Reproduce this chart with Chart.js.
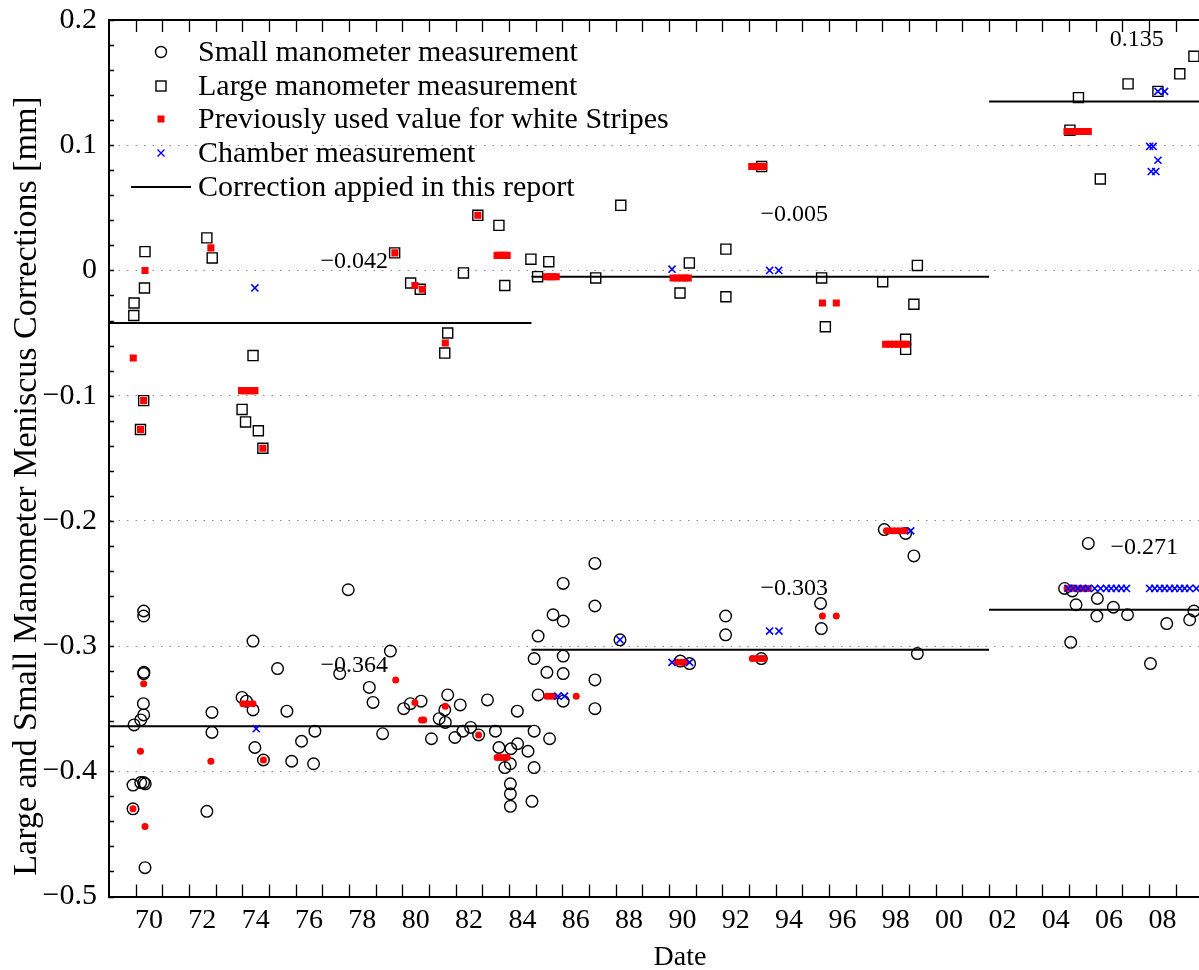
<!DOCTYPE html>
<html><head><meta charset="utf-8">
<script src="https://cdn.jsdelivr.net/npm/chart.js@4.4.1/dist/chart.umd.min.js"></script>
<style>
html,body{margin:0;padding:0;background:#fff;overflow:hidden;width:1199px;height:970px}
#wrap{position:absolute;left:0;top:0;width:1199px;height:970px}
</style>
</head><body><div id="wrap"><canvas id="c" width="1199" height="970"></canvas></div>
<script>
// ---------- tick labels ----------
const xLabelPos = [1970.5,1972.5,1974.5,1976.5,1978.5,1980.5,1982.5,1984.5,1986.5,1988.5,1990.5,1992.5,1994.5,1996.5,1998.5,2000.5,2002.5,2004.5,2006.5,2008.5];
const xLabels = ["70","72","74","76","78","80","82","84","86","88","90","92","94","96","98","00","02","04","06","08"];
const yTickVals = [-0.5,-0.4,-0.3,-0.2,-0.1,0,0.1,0.2];
const yTickLabels = ["\u22120.5","\u22120.4","\u22120.3","\u22120.2","\u22120.1","0","0.1","0.2"];

// ---------- small manometer (circles) ----------
const smallX = [1970.30,1970.30,1970.31,1970.30,1970.29,1970.30,1970.19,1969.94,1969.90,1970.19,1970.30,1970.36,1969.90,1970.35,
  1974.40,1972.86,1972.86,1972.67,1973.99,1974.15,1974.40,1974.47,1974.79,1975.32,1975.67,1975.85,1976.22,
  1976.72,1976.67,1977.97,1977.65,1979.55,1978.76,1978.90,1979.26,1980.05,1980.30,1980.70,1981.09,1981.38,1981.61,1981.59,1981.70,
  1982.17,1981.97,1982.27,1982.56,1982.86,1983.19,1983.49,1983.62,1984.07,1984.31,1984.32,1984.71,1984.94,1984.94,1983.84,1984.05,
  1984.05,1984.05,1984.05,1984.86,1984.94,1985.09,1985.42,1985.52,1985.65,
  1985.09,1986.03,1986.03,1986.03,1986.03,1986.03,1987.22,1987.22,1987.22,1987.22,1988.16,1990.42,1990.77,1992.12,1992.12,1993.46,
  1998.07,1998.87,1999.18,1995.68,1995.71,1999.31,
  2004.83,2005.12,2005.26,2005.72,2006.06,2006.04,2006.66,2007.19,2005.06,2008.05,2008.66,2009.52,2009.68];
const smallY = [-0.272,-0.276,-0.321,-0.322,-0.346,-0.355,-0.359,-0.363,-0.411,-0.409,-0.409,-0.410,-0.430,-0.477,
  -0.296,-0.353,-0.369,-0.432,-0.341,-0.344,-0.351,-0.381,-0.391,-0.318,-0.352,-0.392,-0.376,
  -0.368,-0.394,-0.255,-0.322,-0.304,-0.333,-0.345,-0.370,-0.350,-0.346,-0.344,-0.374,-0.358,-0.361,-0.351,-0.339,
  -0.347,-0.373,-0.368,-0.365,-0.371,-0.343,-0.368,-0.381,-0.382,-0.352,-0.378,-0.384,-0.368,-0.397,-0.397,-0.394,
  -0.410,-0.418,-0.428,-0.424,-0.310,-0.292,-0.321,-0.374,-0.275,
  -0.339,-0.250,-0.280,-0.308,-0.322,-0.344,-0.234,-0.268,-0.327,-0.350,-0.295,-0.312,-0.314,-0.276,-0.291,-0.310,
  -0.207,-0.210,-0.228,-0.266,-0.286,-0.306,
  -0.254,-0.256,-0.267,-0.218,-0.262,-0.276,-0.269,-0.275,-0.297,-0.314,-0.282,-0.279,-0.272];

// ---------- large manometer (squares) ----------
const largeX = [1970.35,1972.67,1972.87,1970.33,1969.94,1969.93,1974.40,1970.30,1970.18,1973.99,1974.12,1974.60,1974.77,
  1979.71,1982.83,1983.62,1984.82,1985.49,1982.29,1980.31,1980.67,1983.84,1985.07,1981.70,1981.59,
  1988.19,1987.25,1990.76,1990.41,1992.13,1992.13,1993.47,1995.72,1998.01,1999.31,1999.18,1995.86,1998.87,1998.87,
  2005.35,2007.21,2008.33,2009.15,2009.68,2005.03,2006.17];
const largeY = [0.015,0.026,0.010,-0.014,-0.026,-0.036,-0.068,-0.104,-0.127,-0.111,-0.121,-0.128,-0.142,
  0.014,0.044,0.036,0.009,0.007,-0.002,-0.010,-0.015,-0.012,-0.005,-0.050,-0.066,
  0.052,-0.006,0.006,-0.018,0.017,-0.021,0.083,-0.006,-0.009,0.004,-0.027,-0.045,-0.055,-0.063,
  0.138,0.149,0.143,0.157,0.171,0.112,0.073];

// ---------- previously used values (red) ----------
const prevLargeX = [1972.82,1970.35,1969.91,1970.30,1970.18,1973.97,1974.10,1974.23,1974.36,1974.47,1974.77,
  1979.72,1982.83,1983.55,1983.68,1983.81,1983.93,1980.47,1980.75,1981.61,1985.40,1985.52,1985.64,1985.77,
  1990.15,1990.30,1990.45,1990.60,1990.72,1993.10,1993.25,1993.40,1993.55,1995.75,1996.27,
  1998.12,1998.28,1998.44,1998.60,1998.76,1998.90,2004.92,2005.08,2005.24,2005.40,2005.56,2005.72];
const prevLargeY = [0.018,0.000,-0.070,-0.104,-0.127,-0.096,-0.096,-0.096,-0.096,-0.096,-0.142,
  0.014,0.044,0.012,0.012,0.012,0.012,-0.012,-0.015,-0.058,-0.005,-0.005,-0.005,-0.005,
  -0.006,-0.006,-0.006,-0.006,-0.006,0.083,0.083,0.083,0.083,-0.026,-0.026,
  -0.059,-0.059,-0.059,-0.059,-0.059,-0.059,0.111,0.111,0.111,0.111,0.111,0.111];
const prevSmallX = [1970.30,1970.18,1969.90,1970.35,1972.82,1974.02,1974.21,1974.40,1974.79,1979.75,1980.47,1980.72,1980.80,
  1981.61,1982.86,1983.55,1983.68,1983.81,1983.93,1985.42,1985.55,1985.68,1986.52,1990.30,1990.45,1990.60,
  1993.12,1993.27,1993.42,1993.55,1995.75,1996.27,1998.15,1998.30,1998.45,1998.60,1998.75,1998.85,
  2004.92,2005.08,2005.24,2005.40,2005.56,2005.72];
const prevSmallY = [-0.330,-0.384,-0.430,-0.444,-0.392,-0.346,-0.346,-0.346,-0.391,-0.327,-0.345,-0.359,-0.359,
  -0.348,-0.371,-0.389,-0.389,-0.389,-0.389,-0.340,-0.340,-0.340,-0.340,-0.313,-0.313,-0.313,
  -0.310,-0.310,-0.310,-0.310,-0.276,-0.276,-0.208,-0.208,-0.208,-0.208,-0.208,-0.208,
  -0.254,-0.254,-0.254,-0.254,-0.254,-0.254];

// ---------- chamber measurements (blue x) ----------
const chamberX = [1974.47,1974.52,1990.11,1993.77,1994.11,1985.83,1986.08,1988.16,1990.11,1990.77,1993.77,1994.12,1999.06,
  2008.33,2008.58,2008.02,2008.15,2008.33,2008.08,2008.25,
  2004.96,2005.15,2005.33,2005.52,2005.71,2005.96,2006.18,2006.40,2006.58,2006.77,2006.96,2007.15,
  2008.02,2008.21,2008.40,2008.58,2008.77,2008.96,2009.15,2009.33,2009.52,2009.77];
const chamberY = [-0.014,-0.366,0.001,0.000,0.000,-0.340,-0.340,-0.295,-0.313,-0.313,-0.288,-0.288,-0.208,
  0.143,0.143,0.099,0.099,0.088,0.079,0.079,
  -0.254,-0.254,-0.254,-0.254,-0.254,-0.254,-0.254,-0.254,-0.254,-0.254,-0.254,-0.254,
  -0.254,-0.254,-0.254,-0.254,-0.254,-0.254,-0.254,-0.254,-0.254,-0.254];

// ---------- corrections applied in this report ----------
const corrStart = [1969, 1984.84, 2002.0];
const corrEnd   = [1984.84, 2002.0, 2012];
const corrLarge = [-0.042, -0.005, 0.135];
const corrSmall = [-0.364, -0.303, -0.271];

// ---------- value annotations ----------
const annText = ["0.135","\u22120.042","\u22120.005","\u22120.303","\u22120.364","\u22120.271"];
const annX = [2006.52, 1976.93, 1993.43, 1993.43, 1976.93, 2006.55];
const annY = [0.184, 0.0072, 0.0445, -0.2545, -0.3157, -0.2217];

const legendItems = ["Small manometer measurement","Large manometer measurement","Previously used value for white Stripes","Chamber measurement","Correction appied in this report"];

const SERIF = '"Liberation Serif","Times New Roman",serif';
const pts = (xs, ys) => xs.map((v, i) => ({x: v, y: ys[i]}));
function segs(vals) {
  const out = [];
  vals.forEach((v, i) => {
    out.push({x: corrStart[i], y: v});
    out.push({x: corrEnd[i], y: v});
    out.push({x: corrEnd[i], y: null});
  });
  return out;
}

const overlay = {
  id: 'overlay',
  afterDraw(chart) {
    const {ctx, chartArea: a, scales: {x, y}} = chart;
    ctx.save();
    // box top
    ctx.strokeStyle = '#000';
    ctx.lineWidth = 2;
    ctx.beginPath();
    ctx.moveTo(a.left, a.top); ctx.lineTo(a.right + 2, a.top);
    ctx.stroke();
    // inward tick marks
    ctx.lineWidth = 1.3;
    ctx.beginPath();
    for (let yr = 1970; yr <= 2009; yr++) {
      const px = Math.round(x.getPixelForValue(yr)) + 0.5;
      ctx.moveTo(px, a.bottom); ctx.lineTo(px, a.bottom - 12);
      ctx.moveTo(px, a.top); ctx.lineTo(px, a.top + 12);
    }
    for (let k = -25; k <= 10; k++) {
      const py = Math.round(y.getPixelForValue(k * 0.02)) + 0.5;
      ctx.moveTo(a.left, py); ctx.lineTo(a.left + 5, py);
    }
    ctx.stroke();

    // annotations
    ctx.fillStyle = '#000';
    ctx.font = '24px ' + SERIF;
    ctx.textAlign = 'left';
    ctx.textBaseline = 'middle';
    annText.forEach((t, i) => ctx.fillText(t, x.getPixelForValue(annX[i]), y.getPixelForValue(annY[i])));

    // axis titles
    ctx.font = '28px ' + SERIF;
    ctx.textAlign = 'center';
    ctx.fillText('Date', 680, 958);
    ctx.save();
    ctx.font = '34px ' + SERIF;
    ctx.translate(27, 486);
    ctx.rotate(-Math.PI / 2);
    ctx.fillText('Large and Small Manometer Meniscus Corrections [mm]', 0, 0);
    ctx.restore();

    // legend
    const rows = [52, 86, 119, 153, 187];
    const sx = 161;
    ctx.font = '30px ' + SERIF;
    ctx.textAlign = 'left';
    ctx.textBaseline = 'middle';
    legendItems.forEach((t, i) => ctx.fillText(t, 198, rows[i] + 1));
    ctx.lineWidth = 1.4;
    ctx.strokeStyle = '#000';
    ctx.beginPath(); ctx.arc(sx, rows[0], 5.5, 0, Math.PI * 2); ctx.stroke();
    ctx.strokeRect(sx - 5, rows[1] - 5, 10, 10);
    ctx.fillStyle = '#ff0000';
    ctx.fillRect(sx - 3.5, rows[2] - 3.5, 7, 7);
    ctx.strokeStyle = '#0000ff';
    ctx.beginPath();
    ctx.moveTo(sx - 3.5, rows[3] - 3.5); ctx.lineTo(sx + 3.5, rows[3] + 3.5);
    ctx.moveTo(sx + 3.5, rows[3] - 3.5); ctx.lineTo(sx - 3.5, rows[3] + 3.5);
    ctx.stroke();
    ctx.strokeStyle = '#000';
    ctx.lineWidth = 2;
    ctx.beginPath(); ctx.moveTo(131, rows[4]); ctx.lineTo(191, rows[4]); ctx.stroke();
    ctx.restore();
  }
};

new Chart(document.getElementById('c'), {
  type: 'scatter',
  data: {
    datasets: [
      {label: 'Chamber measurement', data: pts(chamberX, chamberY), pointStyle: 'crossRot', pointRadius: 5, borderColor: '#0000ff', backgroundColor: '#0000ff', borderWidth: 1.6},
      {label: 'Previously used (large)', data: pts(prevLargeX, prevLargeY), pointStyle: 'rect', pointRadius: 5, borderWidth: 0, backgroundColor: '#ff0000', borderColor: '#ff0000'},
      {label: 'Previously used (small)', data: pts(prevSmallX, prevSmallY), pointStyle: 'circle', pointRadius: 3.5, borderWidth: 0, backgroundColor: '#ff0000', borderColor: '#ff0000'},
      {label: 'Small manometer measurement', data: pts(smallX, smallY), pointStyle: 'circle', pointRadius: 5.8, borderWidth: 1.4, borderColor: '#000', backgroundColor: 'rgba(0,0,0,0)'},
      {label: 'Large manometer measurement', data: pts(largeX, largeY), pointStyle: 'rect', pointRadius: 7.1, borderWidth: 1.4, borderColor: '#000', backgroundColor: 'rgba(0,0,0,0)'},
      {label: 'Correction (large)', type: 'line', data: segs(corrLarge), showLine: true, spanGaps: false, pointRadius: 0, borderColor: '#000', borderWidth: 2},
      {label: 'Correction (small)', type: 'line', data: segs(corrSmall), showLine: true, spanGaps: false, pointRadius: 0, borderColor: '#000', borderWidth: 2}
    ]
  },
  options: {
    responsive: false,
    animation: false,
    devicePixelRatio: 1,
    layout: {autoPadding: false, padding: {left: 0, top: 20, right: 0, bottom: 0}},
    plugins: {legend: {display: false}, tooltip: {enabled: false}},
    scales: {
      x: {
        type: 'linear', position: 'bottom', min: 1969, max: 2009.87,
        grid: {display: false, drawTicks: false},
        border: {display: true, color: '#000', width: 2},
        afterBuildTicks: s => { s.ticks = xLabelPos.map(v => ({value: v})); },
        afterFit: s => { s.height = 73.5; s.paddingLeft = 0; s.paddingRight = 0; },
        ticks: {
          autoSkip: false, maxRotation: 0, minRotation: 0, padding: 10, color: '#000',
          font: {family: SERIF, size: 28, lineHeight: 1},
          callback: (v, i) => xLabels[i]
        }
      },
      y: {
        type: 'linear', position: 'left', min: -0.5, max: 0.2,
        grid: {display: true, drawTicks: false, color: '#8a8a8a', lineWidth: 1},
        border: {display: true, color: '#000', width: 2, dash: [1.5, 7]},
        afterBuildTicks: s => { s.ticks = yTickVals.map(v => ({value: v})); },
        afterFit: s => { s.width = 109; s.paddingTop = 0; s.paddingBottom = 0; },
        ticks: {
          padding: 12, color: '#000',
          font: {family: SERIF, size: 30, lineHeight: 1},
          callback: (v, i) => yTickLabels[i]
        }
      }
    }
  },
  plugins: [overlay]
});
</script>
</body></html>
